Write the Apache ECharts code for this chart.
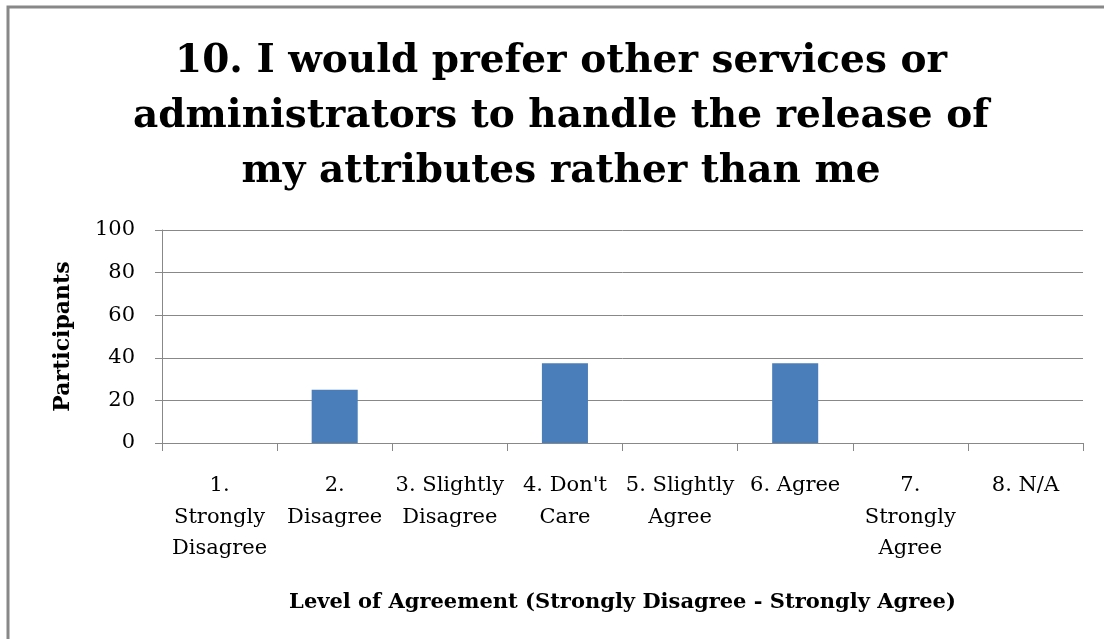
<!DOCTYPE html>
<html>
<head>
<meta charset="utf-8">
<script src="https://cdn.jsdelivr.net/npm/echarts@6/dist/echarts.min.js"></script>
<style>
  html, body { margin: 0; padding: 0; background: #fff; }
  #main { width: 1104px; height: 639px; }
</style>
</head>
<body>
<div id="main"></div>
<script>
// data
var categories = [
  "1.\nStrongly\nDisagree",
  "2.\nDisagree",
  "3. Slightly\nDisagree",
  "4. Don't\nCare",
  "5. Slightly\nAgree",
  "6. Agree",
  "7.\nStrongly\nAgree",
  "8. N/A"
];
var participants = [0, 25, 0, 37.5, 0, 37.5, 0, 0];
var titleText = "10. I would prefer other services or\nadministrators to handle the release of\nmy attributes rather than me";

var serif = "'DejaVu Serif', 'Liberation Serif', serif";

var chart = echarts.init(document.getElementById("main"));
var option = {
  backgroundColor: "#fff",
  animation: false,
  title: {
    text: titleText,
    left: 556,
    top: 29,
    textAlign: "center",
    textStyle: {
      fontFamily: serif,
      fontWeight: "bold",
      fontSize: 39,
      lineHeight: 55,
      color: "#000"
    }
  },
  // outer frame of the chart
  graphic: [
    {
      type: "rect",
      shape: { x: 8, y: 7, width: 1200, height: 700 },
      style: { fill: "none", stroke: "#888", lineWidth: 3 },
      silent: true
    }
  ],
  grid: {
    left: 162,
    right: 21,
    top: 230,
    bottom: 196
  },
  xAxis: {
    type: "category",
    data: categories,
    boundaryGap: true,
    name: "Level of Agreement (Strongly Disagree - Strongly Agree)",
    nameLocation: "middle",
    nameGap: 149,
    nameTextStyle: {
      fontFamily: serif,
      fontWeight: "bold",
      fontSize: 21,
      color: "#000"
    },
    axisLine: { lineStyle: { color: "#888", width: 1 } },
    axisTick: { show: true, alignWithLabel: false, length: 8, lineStyle: { color: "#888" } },
    axisLabel: {
      interval: 0,
      margin: 27,
      fontFamily: serif,
      fontSize: 21,
      lineHeight: 31.5,
      color: "#000",
      align: "center",
      verticalAlign: "top"
    }
  },
  yAxis: {
    type: "value",
    min: 0,
    max: 100,
    interval: 20,
    name: "Participants",
    nameLocation: "middle",
    nameGap: 88,
    nameRotate: 90,
    nameTextStyle: {
      fontFamily: serif,
      fontWeight: "bold",
      fontSize: 22,
      color: "#000"
    },
    axisLine: { show: true, lineStyle: { color: "#888", width: 1 } },
    axisTick: { show: true, length: 7, lineStyle: { color: "#888" } },
    splitLine: { lineStyle: { color: "#888", width: 1 } },
    axisLabel: {
      margin: 27,
      fontFamily: serif,
      fontSize: 21,
      color: "#000"
    }
  },
  series: [
    {
      type: "bar",
      data: participants,
      barWidth: "40%",
      itemStyle: {
        color: "#4a7ebb"
      }
    }
  ]
};
chart.setOption(option);
window.onresize = chart.resize;
</script>
</body>
</html>
